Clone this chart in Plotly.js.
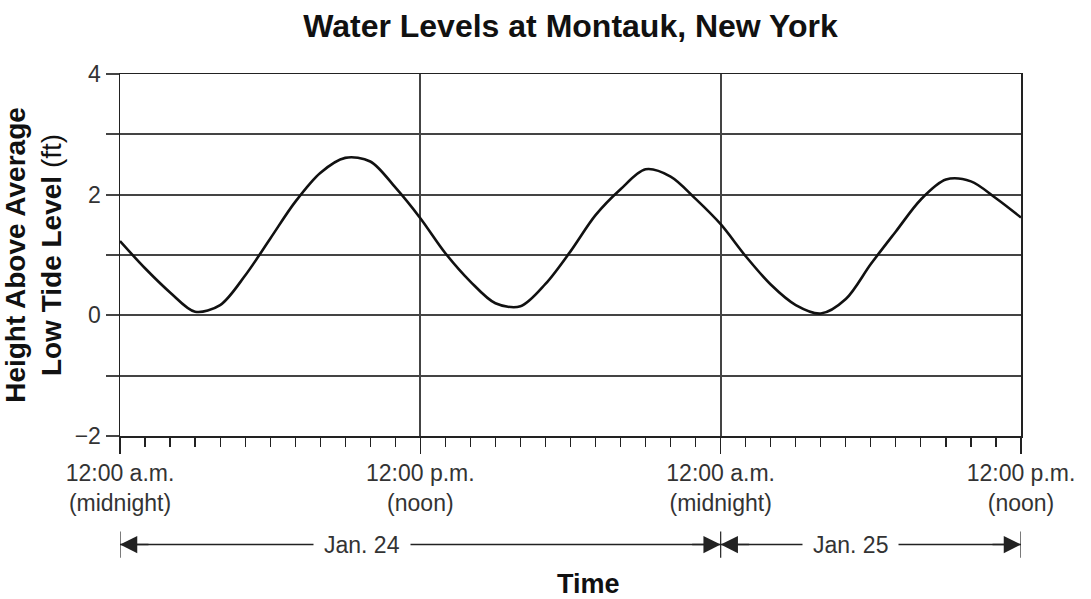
<!DOCTYPE html>
<html>
<head>
<meta charset="utf-8">
<script src="https://cdn.plot.ly/plotly-3.0.1.min.js"></script>
<style>html,body{margin:0;padding:0;background:#fff;}</style>
</head>
<body>
<div id="chart" style="width:1091px;height:599px;"></div>
<script>
// Hours since 12:00 a.m. Jan. 24
const hours = [0,1,2,3,4,5,6,7,8,9,10,11,12,13,14,15,16,17,18,19,20,21,22,23,24,25,26,27,28,29,30,31,32,33,34,35,36];
// Height above average low tide level (ft)
const heightFt = [1.23,0.78,0.38,0.06,0.17,0.66,1.27,1.88,2.36,2.61,2.55,2.12,1.61,1.03,0.56,0.20,0.15,0.52,1.06,1.66,2.09,2.42,2.30,1.93,1.51,0.98,0.51,0.17,0.03,0.27,0.85,1.39,1.92,2.25,2.22,1.94,1.62];

const xTickVals = [0,12,24,36];
const xTickText = ['12:00 a.m.<br>(midnight)','12:00 p.m.<br>(noon)','12:00 a.m.<br>(midnight)','12:00 p.m.<br>(noon)'];
const yTickVals = [-2,-1,0,1,2,3,4];
const yTickText = ['\u22122','','0','','2','','4'];

const dayLabels = ['Jan. 24','Jan. 25'];
const dayStart = [0,24];
const dayEnd = [24,36];
const dayLabelPos = [9.65,29.2];
const xTitleText = 'Time';
const xTitlePos = 18.7;

const FONT = 'Liberation Sans, Arial, Helvetica, sans-serif';
const ink = '#222';
const spanY = -0.30;

const shapes = [];
const annotations = [];
dayLabels.forEach((lab, i) => {
  shapes.push({type:'line', xref:'x', yref:'paper', x0:dayStart[i], x1:dayEnd[i], y0:spanY, y1:spanY,
    line:{color:ink, width:1.5}});
  annotations.push({xref:'x', yref:'paper', x:dayLabelPos[i], y:spanY, text:lab, showarrow:false,
    bgcolor:'#fff', borderpad:10, font:{family:FONT, size:23, color:'#333'}, xanchor:'center', yanchor:'middle'});
  annotations.push({xref:'x', yref:'paper', x:dayStart[i], y:spanY, text:'', showarrow:true,
    ax:30, ay:0, arrowhead:2, arrowsize:2.3, arrowwidth:1.5, arrowcolor:ink, standoff:0});
  annotations.push({xref:'x', yref:'paper', x:dayEnd[i], y:spanY, text:'', showarrow:true,
    ax:-30, ay:0, arrowhead:2, arrowsize:2.3, arrowwidth:1.5, arrowcolor:ink, standoff:0});
});
[0,24,36].forEach(h => {
  shapes.push({type:'line', xref:'x', yref:'paper', x0:h, x1:h, y0:spanY-0.036, y1:spanY+0.036,
    line:{color:ink, width:1.2}});
});
annotations.push({xref:'x', yref:'paper', x:xTitlePos, y:-0.41, text:'<b>'+xTitleText+'</b>', showarrow:false,
  font:{family:FONT, size:27, color:'#111'}, xanchor:'center', yanchor:'middle'});

const trace = {
  x: hours, y: heightFt, type:'scatter', mode:'lines',
  line:{color:'#111', width:2.6, shape:'spline', smoothing:0.9},
  hoverinfo:'skip'
};

const layout = {
  width:1091, height:599,
  margin:{l:120, r:70, t:74, b:163},
  paper_bgcolor:'#fff', plot_bgcolor:'#fff',
  font:{family:FONT, color:'#222'},
  showlegend:false,
  title:{text:'<b>Water Levels at Montauk, New York</b>', xref:'paper', x:0.5, xanchor:'center',
    yref:'container', y:0.957, yanchor:'middle', font:{family:FONT, size:32, color:'#111'}},
  xaxis:{
    range:[0,36], tickvals:xTickVals, ticktext:xTickText,
    ticks:'outside', ticklen:16, tickwidth:1.3, tickcolor:ink,
    minor:{dtick:1, tick0:0, ticks:'outside', ticklen:9, tickwidth:1.2, tickcolor:ink, showgrid:false},
    showgrid:true, gridcolor:'#444', gridwidth:1.7,
    showline:true, linecolor:ink, linewidth:1.5, mirror:true,
    zeroline:false, fixedrange:true,
    tickfont:{family:FONT, size:23, color:'#333'}
  },
  yaxis:{
    range:[-2,4], tickvals:yTickVals, ticktext:yTickText,
    ticks:'outside', ticklen:13, tickwidth:1.7, tickcolor:'#444',
    showgrid:true, gridcolor:'#444', gridwidth:1.7,
    showline:true, linecolor:ink, linewidth:1.5, mirror:true,
    zeroline:false, fixedrange:true,
    tickfont:{family:FONT, size:23, color:'#333'},
    title:{text:'<b>Height Above Average<br>Low Tide Level</b> (ft)', font:{family:FONT, size:28, color:'#111'}, standoff:12}
  },
  shapes:shapes,
  annotations:annotations
};

Plotly.newPlot('chart', [trace], layout, {displayModeBar:false, staticPlot:true});
</script>
</body>
</html>
